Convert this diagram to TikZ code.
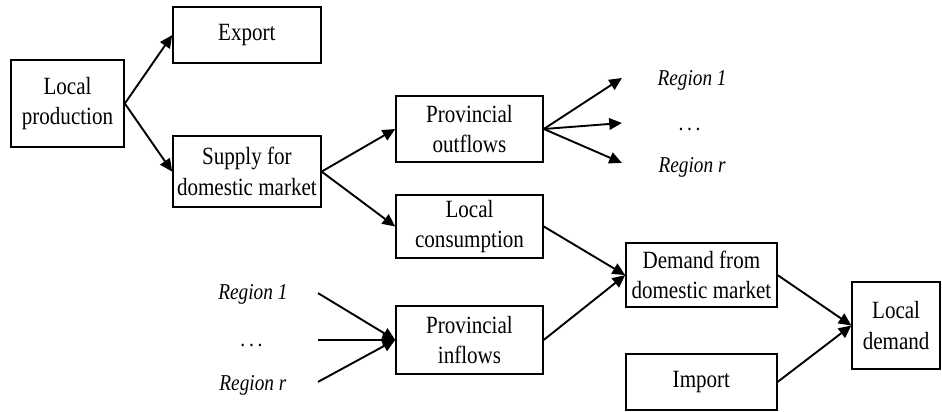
\documentclass[tikz,border=0pt]{standalone}
\usepackage{fontspec}
\setmainfont{Liberation Serif}[FakeStretch=0.85]
\usepackage{tikz}
\usetikzlibrary{arrows.meta,positioning}
\tikzset{stage/.style={draw, line width=1.5pt, align=center, inner sep=0pt,
                       font=\fontsize{23.5}{29}\selectfont},
         flow/.style={-{Triangle[length=12pt,width=11pt]}, line width=1.8pt},
         region/.style={inner sep=0pt, font=\fontsize{21.5}{25}\selectfont\itshape}}

\begin{document}
\begin{tikzpicture}
        \useasboundingbox (0,0) rectangle (31.4,-13.7);

        \node[stage, minimum width=3.77cm, minimum height=2.9cm] (lp) at (2.25, -3.45) {Local\\production};
        \node[stage, minimum width=4.93cm, minimum height=1.87cm] (ex) at (8.23, -1.17) {Export};
        \node[stage, minimum width=4.93cm, minimum height=2.37cm] (sd) at (8.23, -5.72) {Supply for\\domestic market};
        \node[stage, minimum width=4.9cm, minimum height=2.2cm] (po) at (15.65, -4.3) {Provincial\\outflows};
        \node[stage, minimum width=4.9cm, minimum height=2.1cm] (lc) at (15.65, -7.55) {Local\\consumption};
        \node[stage, minimum width=4.9cm, minimum height=2.27cm] (pi) at (15.65, -11.33) {Provincial\\inflows};
        \node[stage, minimum width=5.03cm, minimum height=2.13cm] (dd) at (23.38, -9.17) {Demand from\\domestic market};
        \node[stage, minimum width=5.03cm, minimum height=1.87cm] (im) at (23.38, -12.73) {Import};
        \node[stage, minimum width=2.93cm, minimum height=2.9cm] (ld) at (29.87, -10.85) {Local\\demand};

        % regions reached by outflows
        \node[region] (ro1) at (23.07, -2.67) {Region 1};
        \node[region] (rod) at (23.0, -4.3) {.\,.\,.};
        \node[region] (ror) at (23.07, -5.57) {Region r};
        \coordinate (o1) at (20.73, -2.6);
        \coordinate (o2) at (20.73, -4.1);
        \coordinate (o3) at (20.73, -5.43);

        % regions sending inflows
        \node[region] (ri1) at (8.43, -9.83) {Region 1};
        \node[region] (rid) at (8.4, -11.5) {.\,.\,.};
        \node[region] (rir) at (8.43, -12.83) {Region r};
        \coordinate (i1) at (10.6, -9.77);
        \coordinate (i2) at (10.6, -11.33);
        \coordinate (i3) at (10.6, -12.73);

        \draw (lp.east) edge[flow] (ex.west)
              (lp.east) edge[flow] (sd.west)
              (sd.east) edge[flow] (po.west)
              (sd.east) edge[flow] (lc.west)

              (po.east) edge[flow] (o1)
              (po.east) edge[flow] (o2)
              (po.east) edge[flow] (o3)

              (i1) edge[flow] (pi.west)
              (i2) edge[flow] (pi.west)
              (i3) edge[flow] (pi.west)

              (lc.east) edge[flow] (dd.west)
              (pi.east) edge[flow] (dd.west)
              (dd.east) edge[flow] (ld.west)
              (im.east) edge[flow] (ld.west)
              ;
\end{tikzpicture}
\end{document}
